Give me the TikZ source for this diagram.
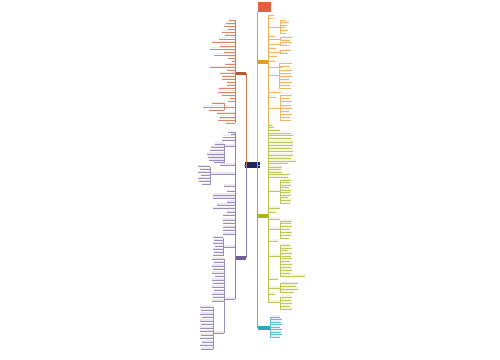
\documentclass[tikz,border=0pt]{standalone}
\usepackage{tikz}
\usetikzlibrary{positioning}
\definecolor{rootred}{HTML}{E0623A}
\definecolor{navy}{HTML}{1E2559}
\definecolor{brorange}{HTML}{C0552A}
\definecolor{rorange}{HTML}{E39A2C}
\definecolor{purp}{HTML}{6E5EA0}
\definecolor{lime}{HTML}{A9B61E}
\definecolor{cyanb}{HTML}{2FA7BF}
\tikzset{%
    topic/.style = {rectangle, inner sep=0pt, minimum width=2mm, minimum height=0.7mm},
    txt/.style = {fill=#1!14},
    leaf/.style = {line width=0.2pt},
    twig/.style = {line width=0.3pt},
    trunk/.style = {line width=0.45pt},
}

\begin{document}
\begin{tikzpicture}[x=0.2mm, y=-0.2mm]
    \fill[white] (0,0) rectangle (500,360);
    \useasboundingbox (0,0) rectangle (500,360);

    % main topics
    \node[topic, fill=rootred, minimum width=2.6mm, minimum height=2mm] (root) at (264.5,7) {};
    \node[topic, fill=navy, minimum width=3mm, minimum height=1.1mm] (hub) at (252,165) {};
    \node[topic, fill=brorange] (lorange) at (241,73.5) {};
    \node[topic, fill=purp] (lpurple) at (241,258) {};
    \node[topic, fill=rorange] (rorange) at (263,62) {};
    \node[topic, fill=lime] (rlime) at (263,216) {};
    \node[topic, fill=cyanb, minimum width=2.4mm] (rcyan) at (264,328) {};

    \draw[trunk, brorange!80] (hub.west) -| (lorange.east);
    \draw[trunk, purp!80] (hub.west) -| (lpurple.east);
    \draw[trunk, rorange!80] (hub.east) -| (rorange.west);
    \draw[trunk, lime!80] (hub.east) -| (rlime.west);
    \draw[trunk, cyanb!80] (hub.east) -| (rcyan.west);
    \draw[trunk, rootred!70] (root.south -| rorange.west) -- (rorange.west);

    % right orange
    \coordinate (ro-top) at (268,15);
    \coordinate (ro-bot) at (268,127);
    \draw[twig, rorange!80] (ro-top) -- (ro-bot);
    \foreach \a/\b/\y in {268/274/15, 268/273/18, 268/280/27, 268/275/36, 268/280/39,
        268/280/44, 268/276/48.5, 268/280/52, 268/277/56.5, 268/275/61.5, 268/282/67,
        268/279/75, 268/281/92, 268/276/97, 268/280/108, 268/271/123, 268/274/127,
        280/286/20, 280/289/22.5, 280/287/25, 280/285/27.5, 280/288/30, 280/286/33,
        280/292/37.5, 280/290/40.5, 280/292/42.5, 280/289/45.5, 280/291/50.5, 280/288/53.5,
        279/292/63, 279/290/66.5, 279/292/70, 279/291/73, 279/292/76, 279/289/79,
        279/292/82, 279/290/85, 279/291/88,
        280/292/95, 280/290/98, 280/292/101.5, 280/291/105, 280/292/108, 280/289/111,
        280/292/114, 280/290/117, 280/291/120}
    {
        \fill[txt=rorange] (\a+0.5,{\y-1.6}) rectangle (\b,{\y-0.5});
        \draw[leaf, rorange!70] (\a,\y) -- (\b,\y);
    }
    \foreach \x/\p/\q in {280/20/33, 280/37.5/40.5, 280/42.5/45.5, 280/50.5/53.5, 279/63/88, 280/95/120}
        \draw[twig, rorange!70] (\x,\p) -- (\x,\q);

    % right lime
    \coordinate (rl-top) at (268,125);
    \coordinate (rl-bot) at (268,302);
    \draw[twig, lime!80] (rl-top) -- (rl-bot);
    \foreach \a/\b/\y in {268/272/125, 268/274/127.5, 268/280/130.5, 268/291/133, 268/293/135.5,
        268/291/138.5, 268/293/142, 268/293/145, 268/292/148, 268/293/151.5, 268/293/155,
        268/291/158, 268/296/161, 268/288/163.5, 268/282/167, 268/281/169.5, 268/282/172,
        268/290/174.5, 268/288/177, 268/280/191.5, 268/280/208, 268/276/212, 268/280/219,
        268/280/229, 268/278/241, 268/280/256, 268/278/279, 268/280/288, 268/275/294, 268/280/302,
        280/291/180, 280/290/182.5, 280/291/185, 280/289/187.5, 280/291/190, 280/290/192.5,
        280/291/195, 280/288/197.5, 280/291/200, 280/290/203,
        280/292/221, 280/291/223.5, 280/292/226.5, 280/290/229.5, 280/292/232.5, 280/291/235.5,
        280/289/238.5,
        280/290/245, 280/292/248, 280/288/250.5, 280/292/253, 280/291/256, 280/292/258.5,
        280/290/261, 280/292/264, 280/291/267, 280/292/270, 280/290/273, 280/305/276,
        280/298/283, 280/296/286, 280/298/289, 280/294/292,
        280/292/297, 280/291/300, 280/292/303, 280/290/306, 280/292/309}
    {
        \fill[txt=lime] (\a+0.5,{\y-1.6}) rectangle (\b,{\y-0.5});
        \draw[leaf, lime!75] (\a,\y) -- (\b,\y);
    }
    \foreach \x/\p/\q in {280/180/203, 280/221/238.5, 280/245/276, 280/283/292, 280/297/309}
        \draw[twig, lime!75] (\x,\p) -- (\x,\q);

    % right cyan
    \coordinate (rc-top) at (270,317);
    \coordinate (rc-bot) at (270,337);
    \draw[twig, cyanb!80] (rc-top) -- (rc-bot);
    \foreach \a/\b/\y in {270/280/317, 270/282/319.5, 270/281/322, 270/282/324.5, 270/280/327,
        270/282/329.5, 270/281/332, 270/282/334.5, 270/280/337}
    {
        \fill[txt=cyanb] (\a+0.5,{\y-1.6}) rectangle (\b,{\y-0.5});
        \draw[leaf, cyanb!75] (\a,\y) -- (\b,\y);
    }

    % left orange
    \coordinate (lo-top) at (235,20);
    \coordinate (lo-bot) at (235,123);
    \draw[twig, brorange!80] (lo-top) -- (lo-bot);
    \foreach \a/\b/\y in {229/235/20, 226/235/23, 224/235/26, 228/235/29, 222/235/32,
        225/235/35.5, 219/235/39, 212/235/42.5, 220/235/46, 210/235/49, 224/235/52,
        214/235/55, 228/235/58, 232/235/61.5, 225/235/64.5, 210/235/67.5, 227/235/70.5,
        220/235/73.5, 222/235/76.5, 222/235/79.5, 227/235/82.5, 227/235/85.5, 219/235/88.5,
        218/235/92, 222/235/95, 230/235/98, 228/235/101, 224/235/107, 217/235/113.5,
        220/235/117, 218/235/120, 226/235/123,
        212/224/103.5, 203/224/107, 209/224/110.5}
    {
        \fill[txt=brorange] (\a,{\y-1.6}) rectangle (\b-0.5,{\y-0.5});
        \draw[leaf, brorange!70] (\a,\y) -- (\b,\y);
    }
    \draw[twig, brorange!70] (224,103.5) -- (224,110.5);

    % left purple
    \coordinate (lp-top) at (235,132);
    \coordinate (lp-bot) at (235,299);
    \draw[twig, purp!80] (lp-top) -- (lp-bot);
    \foreach \a/\b/\y in {228/235/132, 231/235/134.5, 223/235/137, 222/235/140.5, 224/235/146,
        220/235/165, 210/235/174, 224/235/186, 227/235/191.5, 213/235/195, 213/235/198,
        227/235/202, 217/235/205, 213/235/208.5, 227/235/212, 223/235/215.5, 223/235/220,
        223/235/223.5, 223/235/227, 223/235/230.5, 223/235/234, 223/235/247, 224/235/299,
        215/224/144, 211/224/147, 210/224/150.5, 207/224/154, 208/224/157, 209/224/160,
        214/224/162.5,
        198/210/166.5, 200/210/169.5, 198/210/172.5, 201/210/175.5, 198/210/178.5,
        199/210/181.5, 202/210/184.5,
        213/223/237.5, 214/223/240.5, 213/223/243.5, 215/223/246.5, 213/223/249.5,
        214/223/252.5, 213/223/255.5,
        212/224/259, 214/224/262.5, 212/224/266, 213/224/269.5, 212/224/273, 215/224/276.5,
        212/224/280, 213/224/283.5, 212/224/287, 214/224/290.5, 212/224/294, 213/224/297.5,
        212/224/301, 213/224/333,
        200/213/307, 201/213/310.5, 200/213/314, 202/213/317.5, 200/213/321, 201/213/324.5,
        200/213/328, 200/213/331.5, 201/213/335, 200/213/338.5, 202/213/342, 200/213/345.5,
        201/213/349}
    {
        \fill[txt=purp] (\a,{\y-1.6}) rectangle (\b-0.5,{\y-0.5});
        \draw[leaf, purp!70] (\a,\y) -- (\b,\y);
    }
    \foreach \x/\p/\q in {224/144/162.5, 210/166.5/184.5, 223/237.5/255.5, 224/259/333, 213/307/349}
        \draw[twig, purp!70] (\x,\p) -- (\x,\q);
\end{tikzpicture}
\end{document}
